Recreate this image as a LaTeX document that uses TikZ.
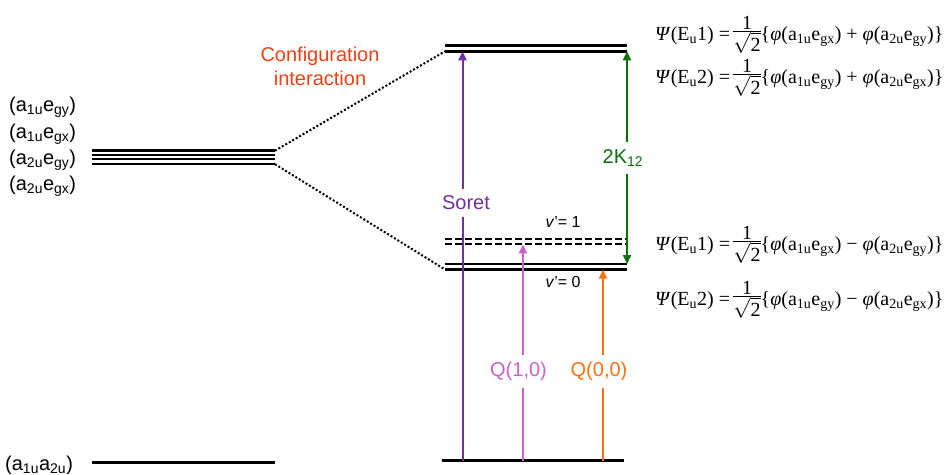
\documentclass[tikz,border=0pt]{standalone}
\usepackage{fontspec}
\usepackage{amsmath}
\setmainfont{Liberation Sans}
\newfontfamily\eqfont{Liberation Serif}
\usetikzlibrary{arrows.meta}
\definecolor{soretc}{RGB}{112,48,160}
\definecolor{qonec}{RGB}{204,96,204}
\definecolor{qzeroc}{RGB}{255,112,16}
\definecolor{kc}{RGB}{10,112,10}
\definecolor{cic}{RGB}{240,64,20}
\newcommand{\sbs}[1]{$_{\text{#1}}$}
\newcommand{\halfroot}{$\vcenter{\offinterlineskip\halign{\hfil##\hfil\cr\mbox{1}\cr\noalign{\kern1.5pt\hrule height 1pt\kern0.5pt}$\sqrt{\mbox{2}}$\cr}}$}
\newcommand{\wfrow}[4]{{\eqfont\textit{Ψ}(E\sbs{u}#1) =\,\halfroot\{\textit{φ}(a\sbs{1u}e\sbs{g#2}) #3 \textit{φ}(a\sbs{2u}e\sbs{g#4})\}}}
\tikzset{
  level/.style={line width=2.5pt},
  dashlevel/.style={line width=2pt, dash pattern=on 7pt off 3pt},
  dotline/.style={line width=2pt, dash pattern=on 2pt off 2pt},
  trans/.style={line width=2pt, -{Triangle[length=9pt,width=8pt]}},
  lbl/.style={font=\fontsize{20}{24}\selectfont, inner sep=0pt},
  gaplbl/.style={font=\fontsize{20}{24}\selectfont, fill=white, inner xsep=1pt, inner ysep=7pt},
  eqn/.style={font=\fontsize{20}{24}\selectfont, anchor=west, inner sep=0pt},
  vlbl/.style={font=\fontsize{16}{19}\selectfont, inner sep=0pt},
}
\begin{document}
\begin{tikzpicture}[x=1pt,y=-1pt]
\useasboundingbox (0,0) rectangle (945,474);
% left levels
\coordinate (L1a) at (92,150.7); \coordinate (L1b) at (275,150.7);
\coordinate (L2a) at (92,154.6); \coordinate (L2b) at (275,154.6);
\coordinate (L3a) at (92,158.6); \coordinate (L3b) at (275,158.6);
\coordinate (L4a) at (92,164.2); \coordinate (L4b) at (275,164.2);
\draw[level] (L1a) -- (L1b);
\draw[level,line width=2pt] (L2a) -- (L2b);
\draw[level,line width=2pt] (L3a) -- (L3b);
\draw[level] (L4a) -- (L4b);
\coordinate (G0a) at (92,462.3); \coordinate (G0b) at (275,462.3);
\draw[level] (G0a) -- (G0b);
% left labels
\node[lbl,anchor=west] (la1) at (9,107) {(a\sbs{1u}e\sbs{gy})};
\node[lbl,anchor=west] (la2) at (9,134) {(a\sbs{1u}e\sbs{gx})};
\node[lbl,anchor=west] (la3) at (9,160) {(a\sbs{2u}e\sbs{gy})};
\node[lbl,anchor=west] (la4) at (9,186) {(a\sbs{2u}e\sbs{gx})};
\node[lbl,anchor=west] (la0) at (5,465) {(a\sbs{1u}a\sbs{2u})};
% right levels
\coordinate (U1a) at (445,45.5); \coordinate (U1b) at (627,45.5);
\coordinate (U2a) at (445,51.3); \coordinate (U2b) at (627,51.3);
\draw[level] (U1a) -- (U1b);
\draw[level] (U2a) -- (U2b);
\coordinate (D1a) at (445,239.3); \coordinate (D1b) at (627,239.3);
\coordinate (D2a) at (445,244.3); \coordinate (D2b) at (627,244.3);
\draw[dashlevel] (D1a) -- (D1b);
\draw[dashlevel] (D2a) -- (D2b);
\coordinate (S1a) at (445,264); \coordinate (S1b) at (627,264);
\coordinate (S2a) at (445,269.5); \coordinate (S2b) at (627,269.5);
\draw[level] (S1a) -- (S1b);
\draw[level] (S2a) -- (S2b);
\coordinate (Ga) at (442,460.5); \coordinate (Gb) at (624,460.5);
\draw[level] (Ga) -- (Gb);
% dotted correlation lines
\draw[dotline] (L1b) -- (U2a);
\draw[dotline] (L4b) -- (S2a);
% configuration interaction
\node[lbl,text=cic,align=center] (ci) at (320,66.5) {Configuration\\[-0.5pt]interaction};
% transitions
\coordinate (sb) at (462.5,460.5); \coordinate (st) at (462.5,51.3);
\draw[trans,soretc] (sb) -- (st);
\node[gaplbl,text=soretc] (soret) at (466,203) {Soret};
\coordinate (q1b) at (523,460.5); \coordinate (q1t) at (523,244.3);
\draw[trans,qonec] (q1b) -- (q1t);
\node[gaplbl,text=qonec] (q1) at (518.5,371.5) {Q(1,0)};
\coordinate (q0b) at (603,460.5); \coordinate (q0t) at (603,269.5);
\draw[trans,qzeroc] (q0b) -- (q0t);
\node[gaplbl,text=qzeroc] (q0) at (599,371.5) {Q(0,0)};
\coordinate (kt) at (627,51.3); \coordinate (kb) at (627,264);
\draw[line width=2pt,kc,{Triangle[length=9pt,width=8pt]}-{Triangle[length=9pt,width=8pt]}] (kt) -- (kb);
\node[gaplbl,text=kc] (k12) at (623,158) {2K\sbs{12}};
% vibrational labels
\node[vlbl] (v1) at (563,222) {\textit{v}'= 1};
\node[vlbl] (v0) at (563,282) {\textit{v}'= 0};
% wavefunctions
\node[eqn] (e1) at (655,35) {\wfrow{1}{x}{+}{y}};
\node[eqn] (e2) at (655,78) {\wfrow{2}{y}{+}{x}};
\node[eqn] (e3) at (655,245) {\wfrow{1}{x}{−}{y}};
\node[eqn] (e4) at (655,300) {\wfrow{2}{y}{−}{x}};
\end{tikzpicture}
\end{document}
